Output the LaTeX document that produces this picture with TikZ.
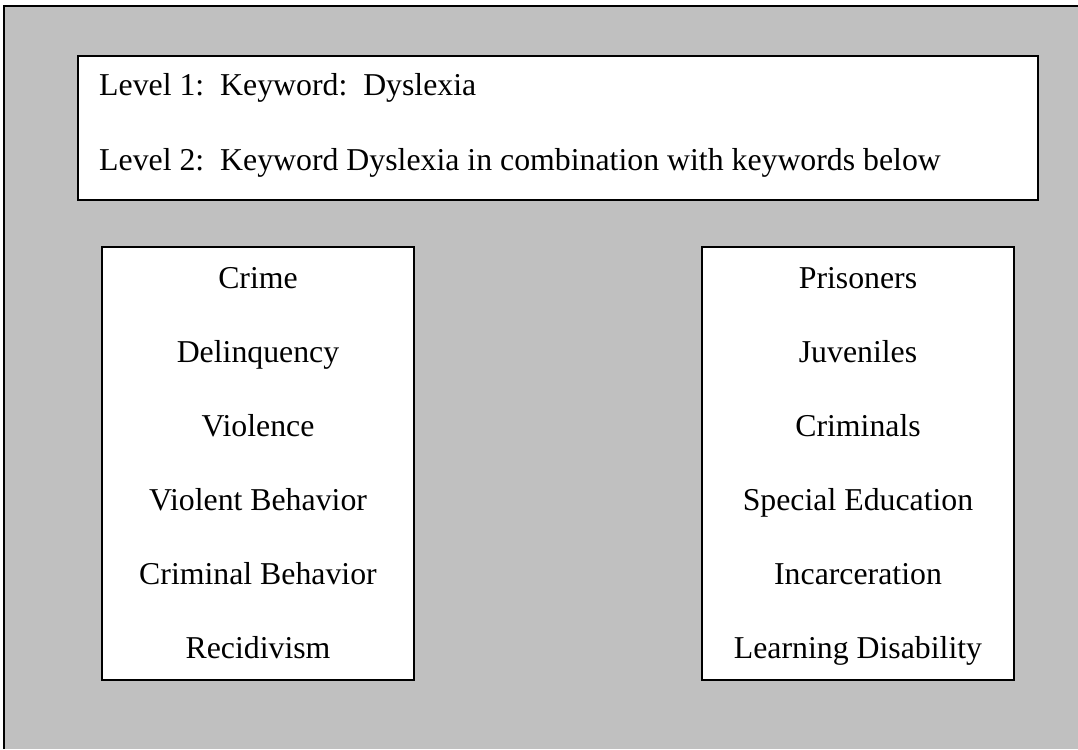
\documentclass[tikz,border=0pt]{standalone}
\usepackage{fontspec}
\setmainfont{Liberation Serif}
\definecolor{bggray}{HTML}{C0C0C0}
\begin{document}
\begin{tikzpicture}[x=1pt,y=-1pt,
  box/.style={draw=black,line width=2pt,fill=white,inner sep=0pt},
  txt/.style={inner sep=0pt,font=\fontsize{31.8}{38}\selectfont}]
\useasboundingbox (0,0) rectangle (1078,749);
\fill[white] (0,0) rectangle (1078,749);
\fill[bggray] (4,6) rectangle (1078,749);
\draw[line width=2pt] (4,749) -- (4,6) -- (1078,6);
\node[box,minimum width=960pt,minimum height=144pt] (top) at (558,128) {};
\node[box,minimum width=312pt,minimum height=433pt] (left) at (258,463.5) {};
\node[box,minimum width=312pt,minimum height=433pt] (right) at (858,463.5) {};
\node[txt,anchor=base west] (l1) at (99,96) {Level 1:\ \ Keyword:\ \ Dyslexia};
\node[txt,anchor=base west] (l2) at (99,170) {Level 2:\ \ Keyword Dyslexia in combination with keywords below};
\foreach \t [count=\i from 0] in {Crime,Delinquency,Violence,Violent Behavior,Criminal Behavior,Recidivism}
  \node[txt,anchor=base] (a\i) at (258,288+74*\i) {\t};
\foreach \t [count=\i from 0] in {Prisoners,Juveniles,Criminals,Special Education,Incarceration,Learning Disability}
  \node[txt,anchor=base] (b\i) at (858,288+74*\i) {\t};
\end{tikzpicture}
\end{document}
